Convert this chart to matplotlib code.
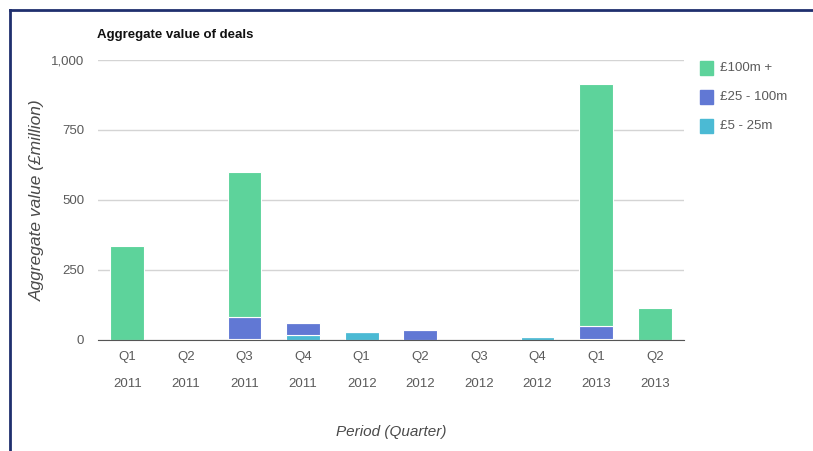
import matplotlib.pyplot as plt
from matplotlib.patches import Rectangle
import numpy as np

plt.rcParams['font.family'] = ['Liberation Sans', 'DejaVu Sans']

quarters = ["Q1\n2011", "Q2\n2011", "Q3\n2011", "Q4\n2011", "Q1\n2012",
            "Q2\n2012", "Q3\n2012", "Q4\n2012", "Q1\n2013", "Q2\n2013"]
band_small = [0, 0, 3, 18, 30, 0, 0, 10, 5, 0]        # £5 - 25m
band_mid = [0, 0, 80, 42, 0, 36, 0, 0, 45, 0]         # £25 - 100m
band_large = [335, 0, 517, 0, 0, 0, 0, 0, 865, 113]   # £100m +

series_names = ["£100m +", "£25 - 100m", "£5 - 25m"]
colors = ["#5dd39b", "#6178d4", "#4bbad4"]

fig = plt.figure(figsize=(8.13, 4.51), dpi=100)
ax = fig.add_axes([98 / 813, 1 - 340 / 451, 586 / 813, 280 / 451])

x = np.arange(len(quarters))
w = 0.58
small = np.array(band_small)
mid = np.array(band_mid)
large = np.array(band_large)
ax.bar(x, small, w, color=colors[2], edgecolor="white", linewidth=0.8, zorder=3)
ax.bar(x, mid, w, bottom=small, color=colors[1], edgecolor="white", linewidth=0.8, zorder=3)
ax.bar(x, large, w, bottom=small + mid, color=colors[0], edgecolor="white", linewidth=0.8, zorder=3)

ax.set_xlim(-0.5, len(quarters) - 0.5)
ax.set_ylim(0, 1000)
ax.set_yticks([0, 250, 500, 750, 1000])
ax.set_yticklabels(["0", "250", "500", "750", "1,000"])
ax.set_xticks(x)
ax.set_xticklabels(quarters, linespacing=2.7)
ax.tick_params(length=0, labelsize=9.5, colors="#5a5a5a")
ax.tick_params(axis="x", pad=8)
ax.tick_params(axis="y", pad=10)
ax.yaxis.grid(True, color="#d4d4d4", linewidth=1, zorder=0)
for s in ["top", "right", "left"]:
    ax.spines[s].set_visible(False)
ax.spines["bottom"].set_color("#555555")
ax.spines["bottom"].set_zorder(4)

ax.set_ylabel("Aggregate value (£million)", style="italic", fontsize=12.5,
              color="#4a4a4a", labelpad=4)
ax.set_xlabel("Period (Quarter)", style="italic", fontsize=11,
              color="#4a4a4a", labelpad=25)
fig.text(97 / 813, 1 - 35 / 451, "Aggregate value of deals", fontsize=9.5,
         fontweight="bold", color="#111111", va="center")

# legend boxes on the right
for i, (name, c) in enumerate(zip(series_names, colors)):
    yc = 68 + i * 29
    fig.patches.append(Rectangle((700 / 813, 1 - (yc + 7) / 451), 13 / 813, 14 / 451,
                                 transform=fig.transFigure, color=c))
    fig.text(720 / 813, 1 - yc / 451, name, fontsize=9.5, color="#5a5a5a", va="center")

# frame lines top and left
fig.add_artist(plt.Line2D([10 / 813, 1], [1 - 10 / 451, 1 - 10 / 451],
                          transform=fig.transFigure, color="#1f2f6e", linewidth=2))
fig.add_artist(plt.Line2D([10 / 813, 10 / 813], [0, 1 - 10 / 451],
                          transform=fig.transFigure, color="#1f2f6e", linewidth=2))

fig.savefig("out.png", dpi=100)
